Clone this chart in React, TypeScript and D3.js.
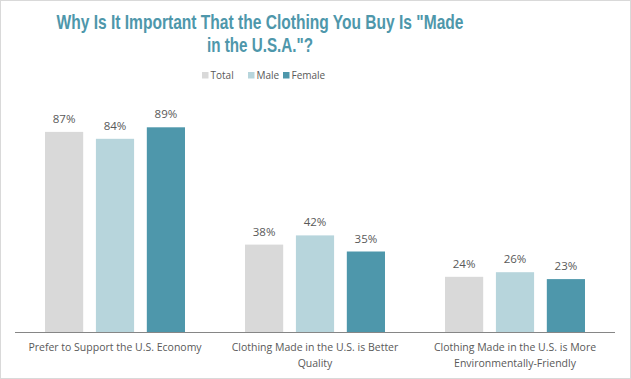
import React from "react";
import * as d3 from "d3";

const categories = [
  ["Prefer to Support the U.S. Economy"],
  ["Clothing Made in the U.S. is Better", "Quality"],
  ["Clothing Made in the U.S. is More", "Environmentally-Friendly"],
];
const seriesNames = ["Total", "Male", "Female"];
const totalValues = [87, 38, 24];
const maleValues = [84, 42, 26];
const femaleValues = [89, 35, 23];
const colors = ["#D9D9D9", "#B7D5DC", "#4E97AB"];
const titleLines = ['Why Is It Important That the Clothing You Buy Is "Made', 'in the U.S.A."?'];
const titleWidths = [407, 106];

export default function App() {
  const W = 631, H = 379;
  const series = [totalValues, maleValues, femaleValues];
  const x0 = d3.scaleBand<number>().domain([0, 1, 2]).range([15, 615]).paddingInner(0).paddingOuter(0);
  const x1 = d3.scaleBand<number>().domain([0, 1, 2]).range([30, 170]).paddingInner(0.25).paddingOuter(0);
  const y = d3.scaleLinear().domain([0, 100]).range([332, 102]);
  const font = "'Open Sans', 'Liberation Sans', sans-serif";
  const legendX = [202, 248, 283];
  return (
    <svg width={W} height={H} style={{ position: "absolute", left: 0, top: 0, display: "block" }}>
      <rect x={0.5} y={0.5} width={W - 1} height={H - 1} fill="#fff" stroke="#d9d9d9" />
      {titleLines.map((t, i) => (
        <text key={i} x={260} y={29 + i * 23} textAnchor="middle" fill="#4E97AB"
          fontFamily="'Liberation Sans', Arial, sans-serif" fontWeight="bold" fontSize={21}
          textLength={titleWidths[i]} lengthAdjust="spacingAndGlyphs">{t}</text>
      ))}
      {seriesNames.map((s, i) => (
        <g key={s}>
          <rect x={legendX[i]} y={72} width={6.5} height={6.5} fill={colors[i]} />
          <text x={legendX[i] + 8.5} y={79} fontFamily={font} fontSize={10} fill="#595959">{s}</text>
        </g>
      ))}
      {categories.map((cat, ci) => (
        <g key={ci} transform={`translate(${x0(ci)},0)`}>
          {series.map((vals, si) => (
            <g key={si}>
              <rect x={x1(si)} y={y(vals[ci])} width={x1.bandwidth()} height={y(0) - y(vals[ci])} fill={colors[si]} />
              <text x={(x1(si) as number) + x1.bandwidth() / 2} y={y(vals[ci]) - 9} textAnchor="middle"
                fontFamily={font} fontSize={11.5} fill="#595959">{vals[ci] + "%"}</text>
            </g>
          ))}
          {cat.map((line, li) => (
            <text key={li} x={x0.bandwidth() / 2} y={351 + li * 16} textAnchor="middle"
              fontFamily={font} fontSize={10.5} fill="#595959">{line}</text>
          ))}
        </g>
      ))}
      <line x1={15} x2={615} y1={332.5} y2={332.5} stroke="#868686" strokeWidth={1} />
    </svg>
  );
}
